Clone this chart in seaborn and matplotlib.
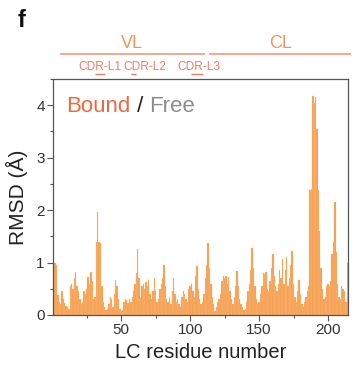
import numpy as np
import pandas as pd
import matplotlib
matplotlib.use("Agg")
import matplotlib.pyplot as plt
from matplotlib.ticker import MultipleLocator
import seaborn as sns

# Per-residue RMSD of the light chain (bound state)
rmsd = [
    0.40, 1.00, 0.95, 0.38, 0.25, 0.20, 0.45, 0.30, 0.22, 0.18,
    0.15, 0.12, 0.55, 0.60, 0.50, 0.70, 0.82, 0.55, 0.45, 0.30,
    0.20, 0.25, 0.45, 0.40, 0.50, 0.72, 0.60, 0.82, 0.65, 0.30,
    0.35, 1.40, 1.97, 1.40, 1.38, 0.55, 0.25, 0.15, 0.10, 0.12,
    0.20, 0.35, 0.30, 0.15, 0.40, 0.67, 0.55, 0.30, 0.12, 0.08,
    0.10, 0.25, 0.30, 0.28, 0.22, 0.30, 0.25, 0.35, 0.45, 0.60,
    0.80, 1.25, 0.70, 0.35, 0.55, 0.60, 0.50, 0.62, 0.55, 0.67,
    0.40, 0.30, 0.45, 0.70, 0.45, 0.25, 0.30, 0.50, 0.60, 0.70,
    0.95, 0.55, 0.30, 0.25, 0.35, 0.20, 0.45, 0.70, 0.40, 0.25,
    0.30, 0.20, 0.15, 0.35, 0.45, 0.40, 0.30, 0.25, 0.50, 0.55,
    0.60, 0.45, 0.35, 0.75, 0.93, 0.50, 0.30, 0.20, 0.25, 0.40,
    0.70, 0.95, 1.37, 0.90, 0.60, 0.35, 0.20, 0.08, 0.15, 0.25,
    0.30, 0.40, 0.65, 0.75, 0.70, 0.75, 0.60, 0.72, 0.45, 0.30,
    0.20, 0.35, 0.55, 0.84, 0.55, 0.30, 0.20, 0.15, 0.10, 0.12,
    0.25, 0.45, 0.60, 0.85, 1.27, 0.90, 0.55, 0.30, 0.20, 0.25,
    0.40, 0.55, 0.80, 0.78, 0.82, 0.50, 0.45, 0.65, 0.90, 1.16,
    0.75, 0.55, 0.45, 0.60, 0.85, 0.70, 1.07, 0.60, 0.85, 1.10,
    0.55, 0.70, 0.95, 1.22, 0.60, 0.35, 0.25, 0.45, 0.67, 0.40,
    0.20, 0.15, 0.25, 0.35, 0.45, 0.55, 2.38, 2.40, 4.18, 4.05,
    4.15, 3.55, 2.38, 1.60, 0.90, 0.50, 0.30, 0.35, 0.55, 0.60,
    0.55, 0.65, 1.16, 1.40, 2.16, 1.20, 0.60, 0.35, 0.30, 0.55,
    0.50, 0.45, 0.25, 1.00,
]
residue = list(range(1, len(rmsd) + 1))

x_ticks = [50, 100, 150, 200]
y_ticks = [0, 1, 2, 3, 4]

# Domain and CDR annotation ranges (residue numbers)
domains = ["VL", "CL"]
domain_spans = [(5.5, 110.5), (113.5, 217.0)]
cdr_labels = ["CDR-L1", "CDR-L2", "CDR-L3"]
cdr_spans = [(31, 38.5), (57, 61), (100.5, 109)]
cdr_label_x = [34.5, 67.5, 106.0]

df = pd.DataFrame({"residue": residue, "rmsd": rmsd})

sns.set_theme(style="white")
plt.rcParams["font.family"] = ["Liberation Sans", "DejaVu Sans"]

fig = plt.figure(figsize=(3.52, 3.79), dpi=100)
ax = fig.add_axes([0.1506, 0.1689, 0.838, 0.6227])

bar_color = "#F7A04F"
sns.barplot(data=df, x="residue", y="rmsd", native_scale=True,
            color=bar_color, width=1.0, saturation=1, ax=ax,
            linewidth=0.15, edgecolor="#FBC38F", errorbar=None)

ax.set_xlim(0.5, 214.5)
ax.set_ylim(0, 4.5)
ax.set_xticks(x_ticks)
ax.set_yticks(y_ticks)
ax.xaxis.set_minor_locator(MultipleLocator(25))
ax.yaxis.set_minor_locator(MultipleLocator(0.5))
ax.tick_params(which="major", direction="out", length=4, width=0.8,
               color="#555555", labelsize=11, labelcolor="#333333",
               bottom=True, left=True, pad=2)
ax.tick_params(which="minor", direction="out", length=2.5, width=0.8,
               color="#555555", bottom=True, left=True)
for s in ax.spines.values():
    s.set_color("#555555")
    s.set_linewidth(0.9)

ax.set_xlabel("LC residue number", fontsize=14.5, color="#222222", labelpad=4)
ax.set_ylabel("RMSD (Å)", fontsize=15, color="#222222", labelpad=6)

# Two-colour legend text
fig.canvas.draw()
renderer = fig.canvas.get_renderer()
x0, y0 = 0.045, 0.885
parts = [("Bound", "#EC6A3E"), (" / ", "#222222"), ("Free", "#8C8C8C")]
for txt, col in parts:
    t = ax.text(x0, y0, txt, transform=ax.transAxes, fontsize=16,
                color=col, va="center", ha="left")
    bb = t.get_window_extent(renderer=renderer)
    bb_ax = bb.transformed(ax.transAxes.inverted())
    x0 = bb_ax.x1

# Domain bars and labels above the axes
trans = ax.get_xaxis_transform()
line_col = "#F39A80"
text_col = "#EF9660"
for name, (a, b) in zip(domains, domain_spans):
    ax.plot([a, b], [1.105, 1.105], transform=trans, color=line_col,
            lw=1.2, clip_on=False, solid_capstyle="butt")
    ax.text((a + b) / 2, 1.115, name, transform=trans, ha="center",
            va="bottom", fontsize=13, color=text_col)

cdr_col = "#EC7F63"
for name, (a, b), lx in zip(cdr_labels, cdr_spans, cdr_label_x):
    ax.text(lx, 1.052, name, transform=trans, ha="center", va="center",
            fontsize=8.6, color=cdr_col)
    ax.plot([a, b], [1.022, 1.022], transform=trans, color=cdr_col,
            lw=1.0, clip_on=False, solid_capstyle="butt")

fig.text(0.06, 0.945, "f", fontsize=17, fontweight="bold", color="#111111",
         ha="center", va="center")

fig.savefig("out.png", dpi=100)
